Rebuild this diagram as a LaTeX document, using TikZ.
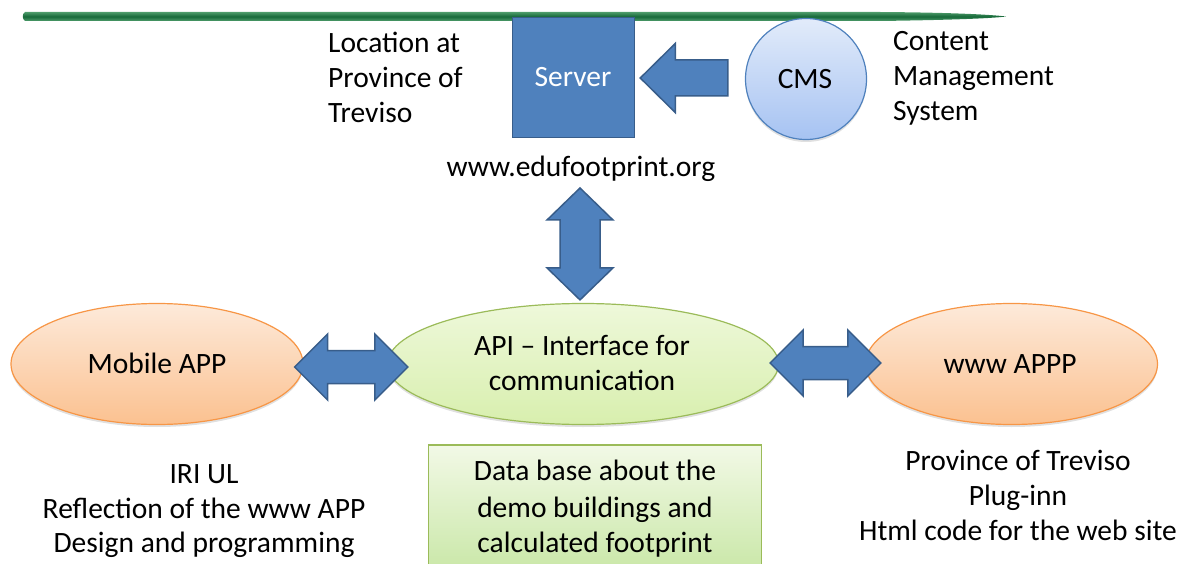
\documentclass[tikz,border=0pt]{standalone}
\usepackage{fontspec}
\setmainfont{Carlito}
\usetikzlibrary{calc,shapes.geometric,shadows}

\definecolor{arrowblue}{HTML}{4F81BD}
\definecolor{arrowedge}{HTML}{385D8A}
\definecolor{orangeedge}{HTML}{F79646}
\definecolor{orangetop}{HTML}{FDEADA}
\definecolor{orangebot}{HTML}{FBC190}
\definecolor{greenedge}{HTML}{9BBB59}
\definecolor{apitop}{HTML}{EEF8DA}
\definecolor{apibot}{HTML}{D8EFAE}
\definecolor{dbtop}{HTML}{F2F9E6}
\definecolor{dbbot}{HTML}{C2E49C}
\definecolor{cmstop}{HTML}{E2EBFA}
\definecolor{cmsbot}{HTML}{A6C3F2}
\definecolor{brushdark}{HTML}{17693A}
\definecolor{brushlight}{HTML}{4E9C6B}

\tikzset{
  txt/.style={anchor=base, inner sep=0pt, font=\fontsize{29.5}{35}\selectfont, text=black},
  softshadow/.style={drop shadow={shadow xshift=0pt, shadow yshift=-2.5pt, opacity=0.12, fill=black}},
  oval/.style={ellipse, draw=orangeedge, line width=1.2pt, top color=orangetop, bottom color=orangebot,
    minimum width=292pt, minimum height=121pt, inner sep=0pt, softshadow},
  apioval/.style={ellipse, draw=greenedge, line width=1.2pt, top color=apitop, bottom color=apibot,
    minimum width=391pt, minimum height=121pt, inner sep=0pt, softshadow},
  dbbox/.style={rectangle, draw=greenedge, line width=1.2pt, top color=dbtop, bottom color=dbbot,
    minimum width=333pt, minimum height=150pt, inner sep=0pt},
  srvbox/.style={rectangle, draw=arrowedge, line width=1.5pt, fill=arrowblue,
    minimum width=122pt, minimum height=120pt, inner sep=0pt},
  cmscircle/.style={circle, draw=arrowblue, line width=1.2pt, top color=cmstop, bottom color=cmsbot,
    minimum size=121pt, inner sep=0pt, softshadow},
  blockarrow/.style={fill=arrowblue, draw=arrowedge, line width=1.5pt, line join=miter},
  % double block arrow: head length, head half width, shaft half width
  dblarrow/.style n args={3}{blockarrow, to path={
    let \p1=(\tikztostart), \p2=(\tikztotarget),
        \n1={atan2(\y2-\y1,\x2-\x1)}, \n2={veclen(\x2-\x1,\y2-\y1)} in
    [shift={(\p1)}, rotate=\n1]
    (0pt,0pt) -- (#1pt,#2pt) -- (#1pt,#3pt) -- (\n2-#1pt,#3pt) -- (\n2-#1pt,#2pt)
    -- (\n2,0pt) -- (\n2-#1pt,-#2pt) -- (\n2-#1pt,-#3pt) -- (#1pt,-#3pt) -- (#1pt,-#2pt) -- cycle}},
  % single block arrow from tail to tip
  sglarrow/.style n args={3}{blockarrow, to path={
    let \p1=(\tikztostart), \p2=(\tikztotarget),
        \n1={atan2(\y2-\y1,\x2-\x1)}, \n2={veclen(\x2-\x1,\y2-\y1)} in
    [shift={(\p1)}, rotate=\n1]
    (0pt,-#3pt) -- (\n2-#1pt,-#3pt) -- (\n2-#1pt,-#2pt) -- (\n2,0pt)
    -- (\n2-#1pt,#2pt) -- (\n2-#1pt,#3pt) -- (0pt,#3pt) -- cycle}}
}

\begin{document}
\begin{tikzpicture}[x=1pt, y=-1pt]
\useasboundingbox (0,0) rectangle (1186,564);
\clip (0,0) rectangle (1186,564);

% brush stroke across the top
\path[top color=brushlight, bottom color=brushlight, middle color=brushdark]
  (25,12) .. controls (22,14) and (22,19) .. (25,21)
  -- (880,21) .. controls (950,20) and (990,18.5) .. (1006,16.5)
  .. controls (990,14.5) and (950,12.5) .. (880,12) -- cycle;

% server and content management system
\node[srvbox] (server) at (573.5,77.5) {};
\node[txt, text=white] (servertxt) at (573,87) {Server};
\node[cmscircle] (cms) at (806,79) {};
\node[txt] (cmstxt) at (805,89) {CMS};

\node[txt, anchor=base west] (loc1) at (328,53) {Location at};
\node[txt, anchor=base west] (loc2) at (328,88) {Province of};
\node[txt, anchor=base west] (loc3) at (328,123) {Treviso};

\node[txt, anchor=base west] (cms1) at (893,51) {Content};
\node[txt, anchor=base west] (cms2) at (893,86) {Management};
\node[txt, anchor=base west] (cms3) at (893,121) {System};

\node[txt] (url) at (581,177) {www.edufootprint.org};

% applications and interface
\node[oval] (mobile) at (157,364) {};
\node[txt] (mobiletxt) at (157,373) {Mobile APP};
\node[apioval] (api) at (583,364) {};
\node[txt] (api1) at (582,355) {API -- Interface for};
\node[txt] (api2) at (582,390) {communication};
\node[oval] (www) at (1011.5,364) {};
\node[txt] (wwwtxt) at (1010,373) {www APPP};

% database
\node[dbbox] (db) at (595,520) {};
\node[txt] (db1) at (595,480) {Data base about the};
\node[txt] (db2) at (595,517) {demo buildings and};
\node[txt] (db3) at (595,552) {calculated footprint};

% notes under the applications
\node[txt] (iri1) at (204,483) {IRI UL};
\node[txt] (iri2) at (204,518) {Reflection of the www APP};
\node[txt] (iri3) at (204,552) {Design and programming};

\node[txt] (tv1) at (1018,470) {Province of Treviso};
\node[txt] (tv2) at (1018,505) {Plug-inn};
\node[txt] (tv3) at (1018,540) {Html code for the web site};

% block arrows
\coordinate (apitop) at ($(api.north)+(-3,-3)$);
\coordinate (urltip) at (apitop |- url.base);
\draw[dblarrow={32}{33}{20}] ($(urltip)+(0,11)$) to (apitop);
\coordinate (cmstail) at ($(cms.west)+(-17,-1)$);
\coordinate (srvtip) at ($(server.east |- cmstail)+(5,0)$);
\draw[sglarrow={35}{34.5}{18}] (cmstail) to (srvtip);
\draw[dblarrow={33}{33}{16.5}] ($(mobile.east)+(-9,3)$) to ($(api.west)+(21,3)$);
\draw[dblarrow={33}{33}{16.5}] ($(api.east)+(-9,-1)$) to ($(www.west)+(16,-1)$);
\end{tikzpicture}
\end{document}
